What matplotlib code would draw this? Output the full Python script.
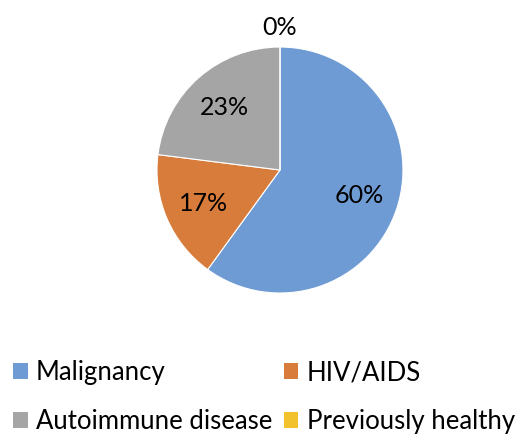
import math
import matplotlib.pyplot as plt
from matplotlib.patches import Patch

labels = ["Malignancy", "HIV/AIDS", "Autoimmune disease", "Previously healthy"]
values = [60, 17, 23, 0]
colors = ["#6F9BD4", "#D77C3B", "#A5A5A5", "#F2C12E"]

plt.rcParams["font.family"] = ["Lato", "DejaVu Sans"]

fig = plt.figure(figsize=(5.28, 4.37), dpi=100)
ax = fig.add_axes([0.2973, 0.3295, 0.4659, 0.5629])

wedges, texts, autotexts = ax.pie(
    values, colors=colors, startangle=90, counterclock=False,
    autopct="%1.0f%%", pctdistance=0.68,
    wedgeprops=dict(linewidth=0.8, edgecolor="white"),
    textprops=dict(fontsize=18, color="black"),
)
ax.set_xlim(-1, 1)
ax.set_ylim(-1, 1)
ax.set_aspect("equal")

# zero slice: Excel puts its label outside the pie
for w, t, v in zip(wedges, autotexts, values):
    if v == 0:
        a = math.radians((w.theta1 + w.theta2) / 2)
        t.set_position((1.16 * math.cos(a), 1.16 * math.sin(a)))

# legend fills row by row, matplotlib fills column by column
order = [0, 2, 1, 3]
handles = [Patch(facecolor=colors[i], edgecolor="none") for i in order]
fig.legend(handles, [labels[i] for i in order], loc="upper left",
           bbox_to_anchor=(0.0246, 0.176), ncol=2, frameon=False, fontsize=18.5,
           handlelength=0.58, handleheight=0.58, handletextpad=0.32,
           columnspacing=0.43, labelspacing=0.95, borderpad=0, borderaxespad=0)

fig.savefig("out.png", dpi=100)
